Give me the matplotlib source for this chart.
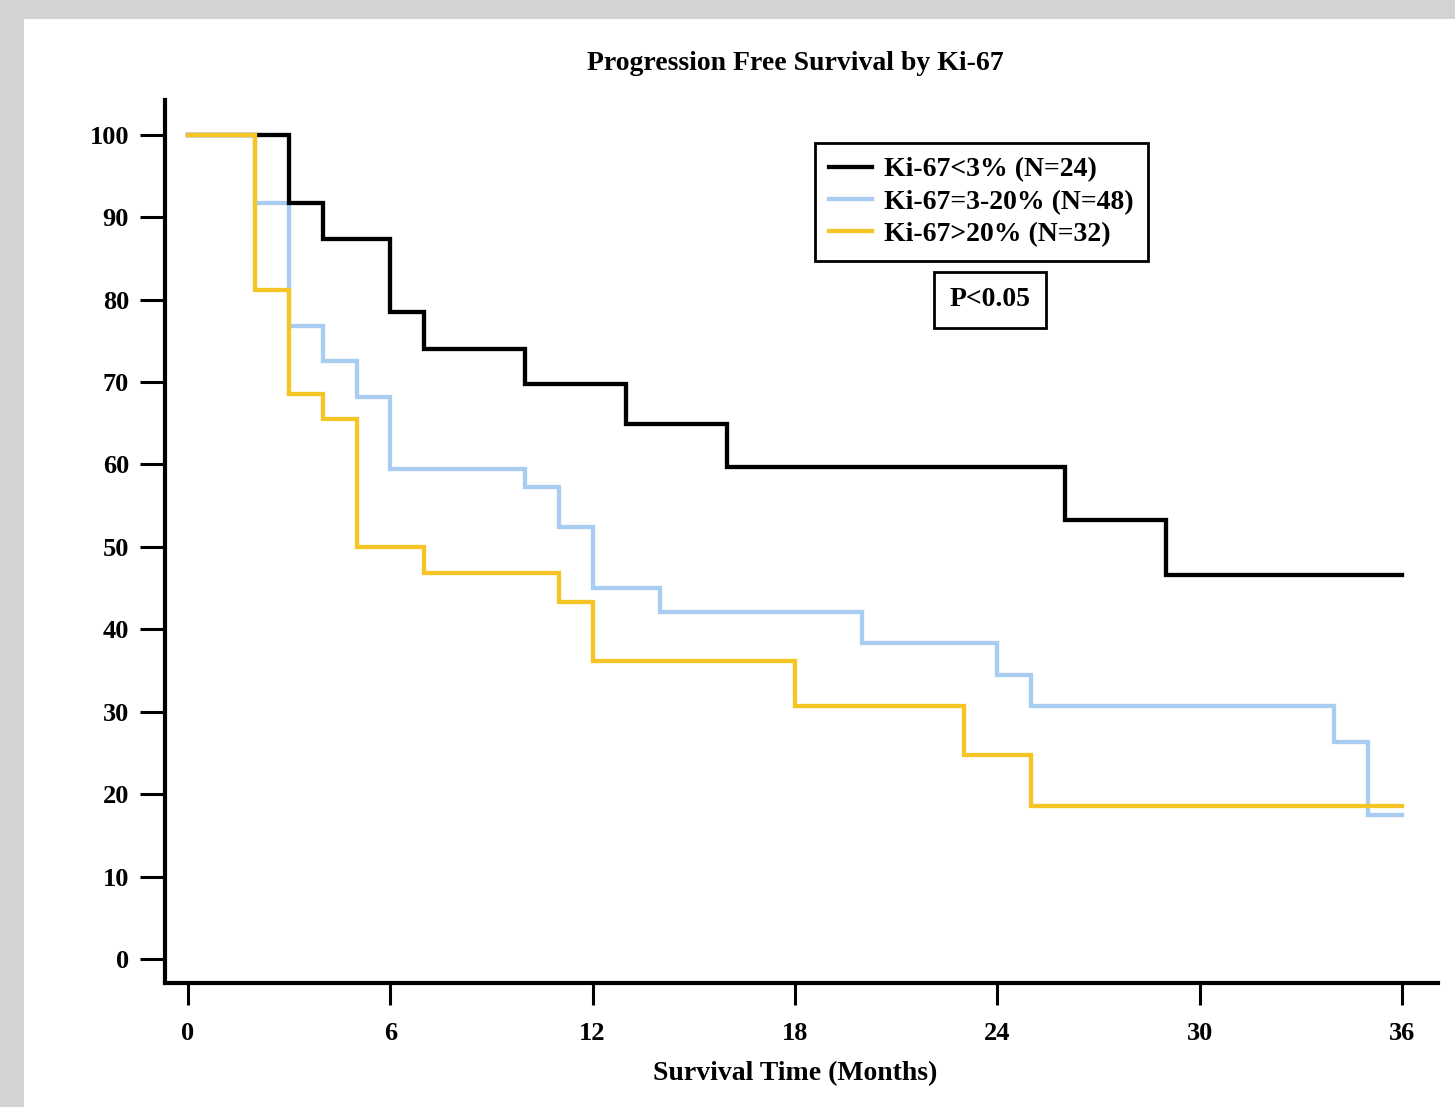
import matplotlib.pyplot as plt
from matplotlib.patches import Rectangle

# Kaplan-Meier step data (months, % progression free)
t_low = [0, 3, 4, 6, 7, 10, 13, 16, 26, 29, 36]
s_low = [100, 91.7, 87.3, 78.5, 74.0, 69.8, 64.9, 59.7, 53.2, 46.6, 46.6]

t_mid = [0, 2, 3, 4, 5, 6, 10, 11, 12, 14, 20, 24, 25, 34, 35, 36]
s_mid = [100, 91.7, 76.8, 72.5, 68.2, 59.5, 57.3, 52.4, 45.0, 42.1, 38.3, 34.5, 30.7, 26.3, 17.5, 17.5]

t_high = [0, 2, 3, 4, 5, 7, 11, 12, 18, 23, 25, 36]
s_high = [100, 81.1, 68.6, 65.5, 50.0, 46.8, 43.3, 36.2, 30.7, 24.8, 18.6, 18.6]

labels = ['Ki-67<3% (N=24)', 'Ki-67=3-20% (N=48)', 'Ki-67>20% (N=32)']
xticks = [0, 6, 12, 18, 24, 30, 36]
yticks = [0, 10, 20, 30, 40, 50, 60, 70, 80, 90, 100]

plt.rcParams['font.family'] = ['Liberation Serif', 'DejaVu Serif']
plt.rcParams['font.weight'] = 'bold'

W, H = 1455, 1107
fig = plt.figure(figsize=(W / 100, H / 100), dpi=100)
fig.patch.set_facecolor('#d3d3d3')
fig.patches.append(Rectangle((24 / W, 0), 1 - 24 / W, 1 - 19 / H, transform=fig.transFigure,
                             facecolor='white', edgecolor='none', zorder=-10))

ax = fig.add_axes([165 / W, 124 / H, (1438 - 165) / W, (983 - 100) / H])
ax.set_facecolor('none')

lw = 3.1
l1, = ax.plot(t_low, s_low, drawstyle='steps-post', color='black', lw=lw, zorder=3,
              solid_joinstyle='miter')
l2, = ax.plot(t_mid, s_mid, drawstyle='steps-post', color='#a9cdf1', lw=lw, zorder=2,
              solid_joinstyle='miter')
l3, = ax.plot(t_high, s_high, drawstyle='steps-post', color='#f4c524', lw=lw, zorder=4,
              solid_joinstyle='miter')

ax.set_xlim(-0.68, 37.07)
ax.set_ylim(-2.9, 104.2)
ax.set_xticks(xticks)
ax.set_yticks(yticks)
for s in ['top', 'right']:
    ax.spines[s].set_visible(False)
for s in ['left', 'bottom']:
    ax.spines[s].set_linewidth(3)
ax.tick_params(axis='y', direction='out', length=18, width=2.2, pad=8, labelsize=19)
ax.tick_params(axis='x', direction='out', length=16, width=2.2, pad=12, labelsize=19)
for lab in ax.get_xticklabels() + ax.get_yticklabels():
    lab.set_fontweight('bold')

fig.text(795 / W, 1 - 63 / H, 'Progression Free Survival by Ki-67', ha='center', va='center',
         fontsize=20, fontweight='bold')
fig.text(795 / W, 1 - 1074 / H, 'Survival Time (Months)', ha='center', va='center',
         fontsize=20, fontweight='bold')

leg = ax.legend([l1, l2, l3], labels, loc='upper left', bbox_to_anchor=(815 / W, 1 - 143 / H),
                bbox_transform=fig.transFigure, borderaxespad=0, fancybox=False,
                edgecolor='black', framealpha=1, handlelength=1.55, handletextpad=0.45,
                labelspacing=0.25, borderpad=0.5, prop={'size': 20, 'weight': 'bold'})
leg.get_frame().set_linewidth(2)

fig.text(990 / W, 1 - 300 / H, 'P<0.05', ha='center', va='center', fontsize=20,
         fontweight='bold',
         bbox=dict(boxstyle='square,pad=0.55', facecolor='white', edgecolor='black', linewidth=2))

fig.savefig('out.png', dpi=100, facecolor=fig.get_facecolor())
